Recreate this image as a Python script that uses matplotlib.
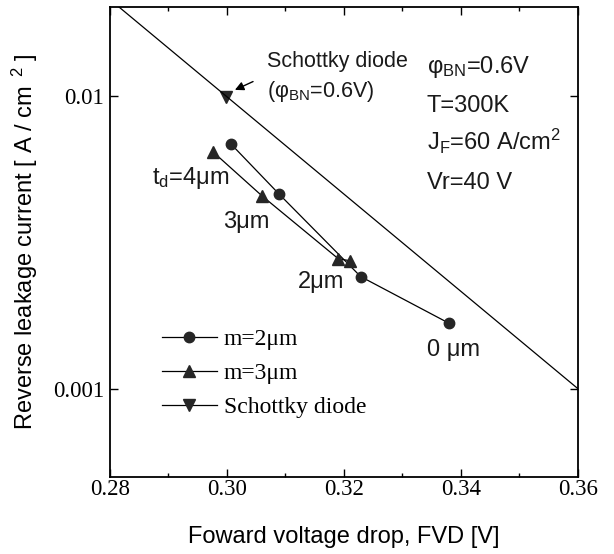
import matplotlib
matplotlib.use("Agg")
import matplotlib.pyplot as plt

plt.rcParams['font.family'] = ['Liberation Sans', 'DejaVu Sans']
plt.rcParams['mathtext.fontset'] = 'custom'
plt.rcParams['mathtext.rm'] = 'Liberation Sans'
plt.rcParams['mathtext.it'] = 'Liberation Sans:italic'
plt.rcParams['mathtext.bf'] = 'Liberation Sans:bold'

# ---- data ----
m2_fvd = [0.3007, 0.3089, 0.3229, 0.3380]
m2_jr = [0.00684, 0.00462, 0.00241, 0.00167]

m3_fvd = [0.2977, 0.3060, 0.3191, 0.3211]
m3_jr = [0.00641, 0.00455, 0.00277, 0.00273]

schottky_fvd = [0.2998]
schottky_jr = [0.0099]

schottky_line_fvd = [0.28, 0.36]
schottky_line_jr = [0.0213, 0.00100]

x_ticks = [0.28, 0.30, 0.32, 0.34, 0.36]
x_ticklabels = ["0.28", "0.30", "0.32", "0.34", "0.36"]
x_minor = [0.29, 0.31, 0.33, 0.35]
y_ticks = [0.001, 0.01]
y_ticklabels = ["0.001", "0.01"]

legend_labels = ["m=2\u03bcm", "m=3\u03bcm", "Schottky diode"]
point_labels = ["t$_{\\rm d}$=4\u03bcm", "3\u03bcm", "2\u03bcm", "0 \u03bcm"]

# ---- figure ----
fig = plt.figure(figsize=(6.14, 5.54), dpi=100)
ax = fig.add_axes([0.1787, 0.1395, 0.7622, 0.8473])

mc = '#262626'
ms = 7.5
ax.plot(m2_fvd, m2_jr, '-', color='black', lw=0.9, marker='o', ms=ms,
        mfc=mc, mec=mc)
ax.plot(m3_fvd, m3_jr, '-', color='black', lw=0.9, marker='^', ms=ms + 0.5,
        mfc=mc, mec=mc)
ax.plot(schottky_fvd, schottky_jr, linestyle='none', marker='v', ms=ms + 0.5,
        mfc=mc, mec=mc)
ax.plot(schottky_line_fvd, schottky_line_jr, '-', color='black', lw=0.9)

# legend proxies with lines
from matplotlib.lines import Line2D
h1 = Line2D([], [], color='black', lw=0.9, marker='o', ms=ms, mfc=mc, mec=mc)
h2 = Line2D([], [], color='black', lw=0.9, marker='^', ms=ms + 0.5, mfc=mc, mec=mc)
h3 = Line2D([], [], color='black', lw=0.9, marker='v', ms=ms + 0.5, mfc=mc, mec=mc)
leg = ax.legend([h1, h2, h3], legend_labels, loc='upper left',
                bbox_to_anchor=(0.111, 0.316), frameon=False, borderpad=0,
                borderaxespad=0, handlelength=2.33, handletextpad=0.3,
                labelspacing=0.53,
                prop={'family': 'Liberation Serif', 'size': 17})

ax.set_yscale('log')
ax.set_xlim(0.28, 0.36)
ax.set_ylim(0.0005, 0.02)
ax.set_xticks(x_ticks)
ax.set_xticklabels(x_ticklabels)
ax.set_xticks(x_minor, minor=True)
ax.set_yticks(y_ticks)
ax.set_yticklabels(y_ticklabels)
ax.yaxis.set_minor_locator(matplotlib.ticker.NullLocator())

ax.tick_params(axis='both', which='both', direction='in', top=True, right=True,
               color='black')
ax.tick_params(axis='both', which='major', length=6, width=1.0)
ax.tick_params(axis='both', which='minor', length=3, width=1.0)
ax.tick_params(axis='x', which='major', pad=1.5)
ax.tick_params(axis='y', which='major', pad=3.9)
for lab in ax.get_xticklabels() + ax.get_yticklabels():
    lab.set_fontfamily('Liberation Serif')
    lab.set_fontsize(16.5)
for sp in ax.spines.values():
    sp.set_linewidth(1.3)

ax.set_xlabel("Foward voltage drop, FVD [V]", fontsize=17)
ax.xaxis.set_label_coords(0.5, -0.128)
ax.xaxis.label.set_verticalalignment('center')
ax.set_ylabel("Reverse leakage current [ A / cm $^{\\,2}$ ]", fontsize=17)
ax.yaxis.set_label_coords(-0.181, 0.5)
ax.yaxis.label.set_verticalalignment('center')

# annotations
tkw = dict(transform=ax.transAxes, ha='left', va='baseline', color='#1a1a1a')
ax.text(0.3365, 0.873, "Schottky diode", fontsize=15.5, **tkw)
ax.text(0.3365, 0.808, "(\u03c6$_{\\rm BN}$=0.6V)", fontsize=15.5, **tkw)
ax.annotate("", xy=(0.3014, 0.01045), xytext=(0.3045, 0.01116),
            arrowprops=dict(arrowstyle='-|>', color='black', lw=1.0,
                            mutation_scale=13, shrinkA=0, shrinkB=0))

ax.text(0.6774, 0.8594, "\u03c6$_{\\rm BN}$=0.6V", fontsize=17, **tkw)
ax.text(0.6774, 0.7776, "T=300K", fontsize=17, **tkw)
ax.text(0.6774, 0.696, "J$_{\\rm F}$=60 A/cm$^{2}$", fontsize=17, **tkw)
ax.text(0.6774, 0.6123, "Vr=40 V", fontsize=17, **tkw)

label_pos = [(0.0897, 0.6236), (0.2427, 0.5292), (0.403, 0.4014), (0.6774, 0.2571)]
for (px, py), s in zip(label_pos, point_labels):
    ax.text(px, py, s, fontsize=17, **tkw)

fig.savefig("out.png", dpi=100, facecolor='white')
